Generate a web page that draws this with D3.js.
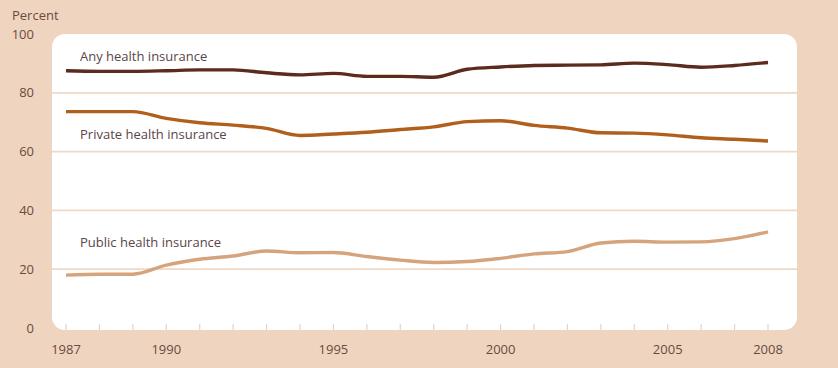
<!DOCTYPE html>
<html><head><meta charset="utf-8">
<script src="https://cdn.jsdelivr.net/npm/d3@7/dist/d3.min.js"></script>
<style>
html,body{margin:0;padding:0;background:#efd5c0;}
svg{display:block;}
text{font-family:"Open Sans","Noto Sans",sans-serif;}
</style></head>
<body>
<svg id="chart" width="838" height="368"></svg>
<script>
const years = d3.range(1987, 2009);
const anyIns = [87.5,87.3,87.3,87.5,87.8,87.8,86.8,86.1,86.6,85.6,85.6,85.3,88.0,88.8,89.3,89.4,89.5,90.1,89.6,88.7,89.3,90.3];
const privateIns = [73.6,73.6,73.6,71.3,69.8,69.0,67.9,65.5,66.0,66.6,67.5,68.4,70.2,70.5,68.9,68.0,66.4,66.3,65.7,64.7,64.2,63.6];
const publicIns = [18.0,18.3,18.3,21.4,23.4,24.5,26.2,25.6,25.7,24.3,23.1,22.3,22.6,23.7,25.2,26.0,28.9,29.5,29.2,29.3,30.4,32.7];
const yTicks = [0,20,40,60,80,100];
const xTickLabels = [1987,1990,1995,2000,2005,2008];
const seriesNames = ["Any health insurance","Private health insurance","Public health insurance"];
const colors = ["#5c2a1e","#b0601c","#d5a47c"];

const svg = d3.select("#chart");
const x = d3.scaleLinear().domain([1987,2008]).range([66,768]);
const y = d3.scaleLinear().domain([0,100]).range([328,34]);

// panel
svg.append("rect").attr("x",52).attr("y",y(100)).attr("width",745).attr("height",330-y(100))
  .attr("rx",13).attr("ry",13).attr("fill","#ffffff");

// gridlines
svg.append("g").selectAll("line").data(yTicks.filter(d=>d>0 && d<100)).join("line")
  .attr("x1",52).attr("x2",797).attr("y1",d=>y(d)).attr("y2",d=>y(d))
  .attr("stroke","#efd8c5").attr("stroke-width",1.8);

// y labels
svg.append("g").selectAll("text").data(yTicks).join("text")
  .attr("x",34).attr("y",d=>y(d)+4.5).attr("text-anchor","end")
  .attr("font-size",13).attr("fill","#6b4a40").text(d=>d);
svg.append("text").attr("x",12).attr("y",20).attr("font-size",13).attr("fill","#6b4a40").text("Percent");

// x ticks
svg.append("g").selectAll("line").data(years).join("line")
  .attr("x1",d=>x(d)).attr("x2",d=>x(d)).attr("y1",324).attr("y2",330)
  .attr("stroke","#e6d3c6").attr("stroke-width",1.2);
svg.append("g").selectAll("text").data(xTickLabels).join("text")
  .attr("x",d=>x(d)).attr("y",354).attr("text-anchor","middle")
  .attr("font-size",13).attr("fill","#6b4a40").text(d=>d);

// lines
const line = d3.line().x((d,i)=>x(years[i])).y(d=>y(d)).curve(d3.curveMonotoneX);
[anyIns, privateIns, publicIns].forEach((s,i)=>{
  svg.append("path").datum(s).attr("d",line).attr("fill","none")
    .attr("stroke",colors[i]).attr("stroke-width",3.4).attr("stroke-linecap","butt");
});

// series labels
const labelPos = [[80,61],[80,139],[80,247]];
seriesNames.forEach((n,i)=>{
  svg.append("text").attr("x",labelPos[i][0]).attr("y",labelPos[i][1])
    .attr("font-size",13).attr("fill","#5a4548").text(n);
});
</script>
</body></html>
